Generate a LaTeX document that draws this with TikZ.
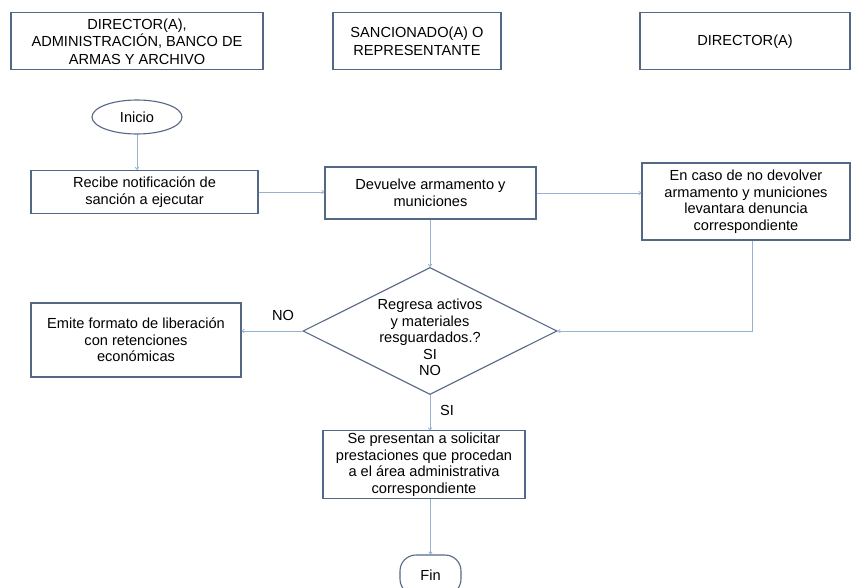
\documentclass[tikz,border=0pt]{standalone}
\usepackage{fontspec}
\setmainfont{Liberation Sans}
\usetikzlibrary{shapes.geometric,arrows.meta}
\definecolor{boxc}{RGB}{84,104,134}
\definecolor{linec}{RGB}{150,178,208}
\tikzset{
  base/.style={draw=boxc,line width=1.1pt,align=center,inner sep=2pt,font=\fontsize{14.6}{16.5}\selectfont},
  hdr/.style={base,rectangle,font=\fontsize{14.6}{17.5}\selectfont},
  proc/.style={base,rectangle},
  term/.style={base,ellipse},
  dec/.style={base,diamond,inner sep=0pt},
  conn/.style={draw=linec,line width=0.8pt,-{To[length=3pt,width=4pt]}},
  lbl/.style={font=\fontsize{14.6}{16}\selectfont}
}
\begin{document}
\begin{tikzpicture}[x=1pt,y=-1pt]
\useasboundingbox (0,0) rectangle (851,588);
\clip (0,0) rectangle (851,588);
\node[hdr,minimum width=252,minimum height=57] (h1) at (137,41.3) {DIRECTOR(A),\\ADMINISTRACIÓN, BANCO DE\\ARMAS Y ARCHIVO};
\node[hdr,minimum width=168,minimum height=57] (h2) at (417,41.3) {SANCIONADO(A) O\\REPRESENTANTE};
\node[hdr,minimum width=210,minimum height=57] (h3) at (745,41.3) {DIRECTOR(A)};
\node[term,minimum width=90,minimum height=34] (ini) at (137,117) {Inicio};
\node[proc,minimum width=227,minimum height=43] (rec) at (144.5,192) {Recibe notificación de\\sanción a ejecutar};
\node[proc,minimum width=211,minimum height=52] (dev) at (430.5,193) {Devuelve armamento y\\municiones};
\node[proc,minimum width=208,minimum height=77] (enc) at (746,201.5) {En caso de no devolver\\armamento y municiones\\levantara denuncia\\correspondiente};
\node[dec,minimum width=254,minimum height=127] (d) at (430,331) {\raisebox{-12pt}[0pt][0pt]{\begin{tabular}{@{}c@{}}Regresa activos\\y materiales\\resguardados.?\\SI\\NO\end{tabular}}};
\node[proc,minimum width=210,minimum height=74] (emi) at (136,340) {Emite formato de liberación\\con retenciones\\económicas};
\node[proc,minimum width=202,minimum height=65] (sp) at (424,464.5) {Se presentan a solicitar\\prestaciones que procedan\\a el área administrativa\\correspondiente};
\node[base,rectangle,rounded corners=16pt,minimum width=61,minimum height=40] (fin) at (430.5,575) {Fin};
\node[lbl] (no) at (283,315) {NO};
\node[lbl] (si) at (447,410) {SI};
\coordinate (encb) at ([xshift=6]enc.south);
\draw[conn] (ini.south) -- (ini.south |- rec.north);
\draw[conn] (rec.east) -- (rec.east -| dev.west);
\draw[conn] (dev.east) -- (dev.east -| enc.west);
\draw[conn] (dev.south -| d.north) -- (d.north);
\draw[conn] (encb) |- (d.east);
\draw[conn] (d.west) -- (d.west -| emi.east);
\draw[conn] (d.south) -- (d.south |- sp.north);
\draw[conn] (sp.south -| fin.north) -- (fin.north);
\end{tikzpicture}
\end{document}
